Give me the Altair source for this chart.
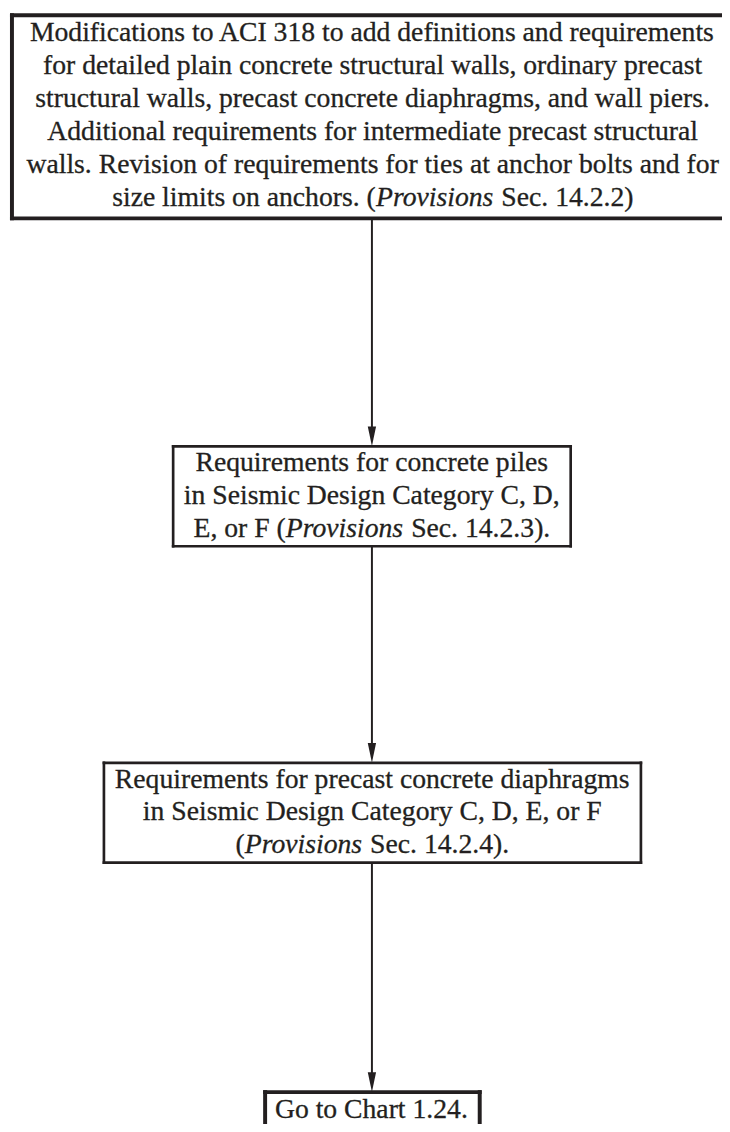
import altair as alt
import pandas as pd

# ---------------- content ----------------
# text of each flowchart node, one entry per line; *...* marks italic text
node_lines = [
    ["Modifications to ACI 318 to add definitions and requirements",
     "for detailed plain concrete structural walls, ordinary precast",
     "structural walls, precast concrete diaphragms, and wall piers.",
     "Additional requirements for intermediate precast structural",
     "walls. Revision of requirements for ties at anchor bolts and for",
     "size limits on anchors. (*Provisions* Sec. 14.2.2)"],
    ["Requirements for concrete piles",
     "in Seismic Design Category C, D,",
     "E, or F (*Provisions* Sec. 14.2.3)."],
    ["Requirements for precast concrete diaphragms",
     "in Seismic Design Category C, D, E, or F",
     "(*Provisions* Sec. 14.2.4)."],
    ["Go to Chart 1.24."],
]

# ---------------- layout (page pixels) ----------------
box_left = [12, 175, 105, 268]
box_right = [728, 577, 648, 485]
box_top = [9, 445, 765, 1098]
box_bottom = [214.5, 546, 866, 1150]
box_border = [4, 2.7, 2.7, 4]
open_sides = [{"right"}, set(), set(), {"bottom"}]   # edges that run off the page
text_center = [377, 376, 376.5, 375.5]
first_baseline = [35, 470, 790, 1124]
line_step = 33.3
arrow_x = 376
FONT = "Liberation Serif, Times New Roman, serif"
FS = 28
INK = "#231f20"
PAGE_TOP, PAGE_RIGHT, PAGE_BOTTOM = 8, 730, 1124

# Times font advance widths (per 1000 em)
_reg = dict(zip("ABCDEFGHIJKLMNOPQRSTUVWXYZ",
                [722, 667, 667, 722, 611, 556, 722, 722, 333, 389, 722, 611, 889,
                 722, 722, 556, 722, 667, 556, 611, 722, 722, 944, 722, 722, 611]))
_reg.update(zip("abcdefghijklmnopqrstuvwxyz",
                [444, 500, 444, 500, 444, 333, 500, 500, 278, 278, 500, 278, 778,
                 500, 500, 500, 500, 333, 389, 278, 500, 500, 722, 500, 500, 444]))
_reg.update({c: 500 for c in "0123456789"})
_reg.update({" ": 250, ".": 250, ",": 250, "(": 333, ")": 333, "-": 333})
_ital = dict(_reg)
_ital.update(zip("abcdefghijklmnopqrstuvwxyz",
                 [500, 500, 444, 500, 444, 278, 500, 500, 278, 278, 444, 278, 722,
                  500, 500, 500, 500, 389, 389, 278, 500, 444, 667, 444, 444, 389]))
_ital.update({"P": 611})


def seg_width(s, italic):
    table = _ital if italic else _reg
    return sum(table.get(c, 500) for c in s) * FS / 1000.0


def parse(line):
    parts = line.split("*")
    return [(p, i % 2 == 1) for i, p in enumerate(parts) if p]


# ---------------- build tables ----------------
fills = pd.DataFrame({"x1": box_left, "x2": box_right, "y1": box_top, "y2": box_bottom})

edges = []
for k in range(len(box_left)):
    L, R, T, B, w = box_left[k], box_right[k], box_top[k], box_bottom[k], box_border[k]
    h = w / 2
    cand = {
        "top": (L - h, R + h, T, T),
        "bottom": (L - h, R + h, B, B),
        "left": (L, L, T - h, B + h),
        "right": (R, R, T - h, B + h),
    }
    for side, (xa, xb, ya, yb) in cand.items():
        if side in open_sides[k]:
            continue
        edges.append({"xa": xa, "xb": xb, "ya": ya, "yb": yb, "sw": w})
edges = pd.DataFrame(edges)

arrows = pd.DataFrame({
    "x": [arrow_x] * 3,
    "y1": box_bottom[:3],
    "y2": [t - 12 for t in box_top[1:]],
})
heads = pd.DataFrame({"x": [arrow_x] * 3, "y": [t - 10 for t in box_top[1:]]})

rows = []
for k, lines in enumerate(node_lines):
    for j, line in enumerate(lines):
        segs = parse(line)
        total = sum(seg_width(s, it) for s, it in segs)
        x = text_center[k] - total / 2
        y = first_baseline[k] + j * line_step
        for s, it in segs:
            lead = len(s) - len(s.lstrip(" "))
            core = s.strip(" ")
            rows.append({"x": x + seg_width(" " * lead, it), "y": y, "t": core,
                         "style": "italic" if it else "normal"})
            x += seg_width(s, it)
texts = pd.DataFrame(rows)

xs = alt.Scale(domain=[8, PAGE_RIGHT], nice=False, zero=False)
ys = alt.Scale(domain=[PAGE_TOP, PAGE_BOTTOM], nice=False, zero=False, reverse=True)

fill_layer = alt.Chart(fills).mark_rect(fill="white", strokeWidth=0).encode(
    x=alt.X("x1:Q", scale=xs, axis=None), x2="x2:Q",
    y=alt.Y("y1:Q", scale=ys, axis=None), y2="y2:Q",
)

edge_layer = alt.Chart(edges).mark_rule(color=INK, strokeCap="butt").encode(
    x=alt.X("xa:Q", scale=xs, axis=None), x2="xb:Q",
    y=alt.Y("ya:Q", scale=ys, axis=None), y2="yb:Q",
    strokeWidth=alt.StrokeWidth("sw:Q", scale=None),
)

rule_layer = alt.Chart(arrows).mark_rule(color=INK, strokeWidth=2).encode(
    x=alt.X("x:Q", scale=xs, axis=None),
    y=alt.Y("y1:Q", scale=ys, axis=None), y2="y2:Q",
)

head_layer = alt.Chart(heads).mark_point(
    shape="M0,1 L-0.42,-1 L0.42,-1 Z", filled=True, size=400,
    color=INK, opacity=1, strokeWidth=0,
).encode(
    x=alt.X("x:Q", scale=xs, axis=None),
    y=alt.Y("y:Q", scale=ys, axis=None),
)

text_normal = alt.Chart(texts).transform_filter(alt.datum.style == "normal").mark_text(
    align="left", baseline="alphabetic", font=FONT, fontSize=FS, color=INK,
    stroke=INK, strokeWidth=0.3,
).encode(
    x=alt.X("x:Q", scale=xs, axis=None),
    y=alt.Y("y:Q", scale=ys, axis=None),
    text="t:N",
)
text_italic = alt.Chart(texts).transform_filter(alt.datum.style == "italic").mark_text(
    align="left", baseline="alphabetic", font=FONT, fontSize=FS, color=INK,
    fontStyle="italic", stroke=INK, strokeWidth=0.3,
).encode(
    x=alt.X("x:Q", scale=xs, axis=None),
    y=alt.Y("y:Q", scale=ys, axis=None),
    text="t:N",
)

chart = alt.layer(fill_layer, edge_layer, rule_layer, head_layer,
                  text_normal, text_italic).properties(
    width=PAGE_RIGHT - 8, height=PAGE_BOTTOM - PAGE_TOP, padding=0,
    autosize=alt.AutoSizeParams(type="none"),
).configure_view(strokeWidth=0)

chart.save("out.html", embed_options={"renderer": "svg", "actions": False})
